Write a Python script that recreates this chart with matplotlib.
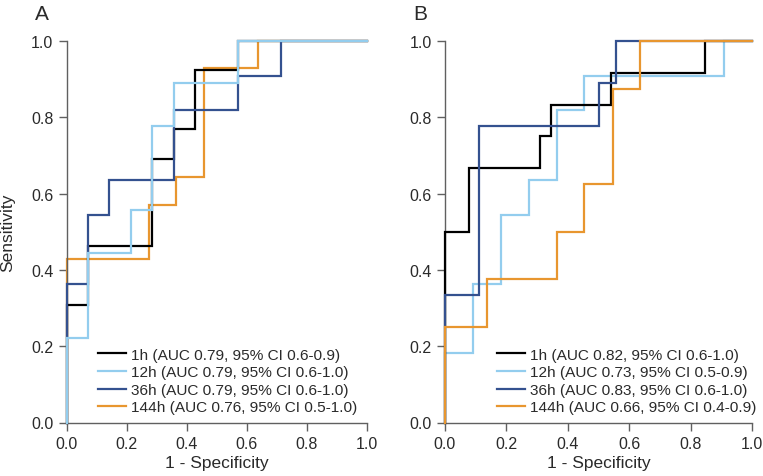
import matplotlib
matplotlib.use("Agg")
import matplotlib.pyplot as plt

plt.rcParams['font.family'] = ['Liberation Sans', 'DejaVu Sans']

series_labels = ["1h", "12h", "36h", "144h"]
colors = ["#000000", "#93cdee", "#34518f", "#e8962f"]

# Panel A ROC corner points (false positive rate, true positive rate)
a_fpr = [
    [0, 0, 0.071, 0.286, 0.357, 0.429, 0.571, 1.0],
    [0, 0, 0.071, 0.214, 0.286, 0.357, 0.571, 1.0],
    [0, 0, 0.071, 0.143, 0.357, 0.571, 0.714, 1.0],
    [0, 0, 0.274, 0.364, 0.456, 0.637, 1.0],
]
a_tpr = [
    [0, 0.308, 0.462, 0.692, 0.769, 0.923, 1.0, 1.0],
    [0, 0.222, 0.444, 0.556, 0.778, 0.889, 1.0, 1.0],
    [0, 0.364, 0.545, 0.636, 0.818, 0.909, 1.0, 1.0],
    [0, 0.429, 0.571, 0.643, 0.929, 1.0, 1.0],
]
a_legend = [
    "1h (AUC 0.79, 95% CI 0.6-0.9)",
    "12h (AUC 0.79, 95% CI 0.6-1.0)",
    "36h (AUC 0.79, 95% CI 0.6-1.0)",
    "144h (AUC 0.76, 95% CI 0.5-1.0)",
]

# Panel B
b_fpr = [
    [0, 0, 0.079, 0.308, 0.346, 0.540, 0.846, 1.0],
    [0, 0, 0.092, 0.183, 0.274, 0.364, 0.454, 0.910, 1.0],
    [0, 0, 0.112, 0.500, 0.558, 1.0],
    [0, 0, 0.136, 0.364, 0.454, 0.546, 0.636, 1.0],
]
b_tpr = [
    [0, 0.500, 0.667, 0.750, 0.833, 0.917, 1.0, 1.0],
    [0, 0.182, 0.364, 0.545, 0.636, 0.818, 0.909, 1.0, 1.0],
    [0, 0.333, 0.778, 0.889, 1.0, 1.0],
    [0, 0.250, 0.375, 0.500, 0.625, 0.875, 1.0, 1.0],
]
b_legend = [
    "1h (AUC 0.82, 95% CI 0.6-1.0)",
    "12h (AUC 0.73, 95% CI 0.5-0.9)",
    "36h (AUC 0.83, 95% CI 0.6-1.0)",
    "144h (AUC 0.66, 95% CI 0.4-0.9)",
]

ticks = [0.0, 0.2, 0.4, 0.6, 0.8, 1.0]
tick_labels = ["0.0", "0.2", "0.4", "0.6", "0.8", "1.0"]

W, H = 763, 477
fig = plt.figure(figsize=(W / 100, H / 100), dpi=100)
axA = fig.add_axes([66.5 / W, 1 - 423.5 / H, 300.5 / W, 381.5 / H])
axB = fig.add_axes([445 / W, 1 - 423.5 / H, 307 / W, 381.5 / H])

spine_col = "#606060"
text_col = "#2a2a2a"

def draw(ax, fprs, tprs, legend_texts, zorders, panel, show_ylabel, leg_x, panel_x):
    handles = []
    for i in range(4):
        ln, = ax.plot(fprs[i], tprs[i], drawstyle="steps-post", color=colors[i],
                      lw=1.6, zorder=zorders[i], label=legend_texts[i],
                      clip_on=False, solid_joinstyle="miter")
        handles.append(ln)
    ax.set_xlim(0, 1)
    ax.set_ylim(0, 1)
    ax.set_xticks(ticks)
    ax.set_xticklabels(tick_labels)
    ax.set_yticks(ticks)
    ax.set_yticklabels(tick_labels)
    for s in ["top", "right"]:
        ax.spines[s].set_visible(False)
    for s in ["left", "bottom"]:
        ax.spines[s].set_color(spine_col)
        ax.spines[s].set_linewidth(1.0)
    ax.tick_params(direction="out", length=6, width=1.0, color=spine_col,
                   labelsize=11.5, labelcolor=text_col, pad=3.5)
    ax.set_xlabel("1 - Specificity", fontsize=12.5, color=text_col)
    ax.xaxis.set_label_coords(0.5, -0.085)
    if show_ylabel:
        ax.set_ylabel("Sensitivity", fontsize=12.5, color=text_col)
        ax.yaxis.set_label_coords(-0.170, 0.5)
    leg = ax.legend(handles=handles, loc="lower left", frameon=False,
                    fontsize=11.1, handlelength=1.8, handletextpad=0.33,
                    labelspacing=0.23, borderaxespad=0, borderpad=0,
                    bbox_to_anchor=(leg_x / W, 1 - 415.5 / H),
                    bbox_transform=fig.transFigure)
    for t in leg.get_texts():
        t.set_color(text_col)
    fig.text(panel_x / W, 1 - 20 / H, panel, fontsize=15, color=text_col,
             ha="left", va="baseline")

draw(axA, a_fpr, a_tpr, a_legend, [3, 5, 4, 2], "A", True, 98, 35)
draw(axB, b_fpr, b_tpr, b_legend, [3, 2, 4, 5], "B", False, 497, 413)

fig.savefig("out.png", dpi=100)
